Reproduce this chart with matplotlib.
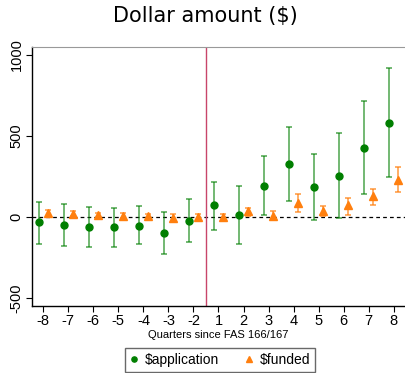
import matplotlib
matplotlib.use("Agg")
import matplotlib.pyplot as plt
import numpy as np

quarters = ["-8", "-7", "-6", "-5", "-4", "-3", "-2", "1", "2", "3", "4", "5", "6", "7", "8"]

app = [-35, -51, -64, -66, -54, -101, -23, 70, 14, 193, 327, 185, 255, 428, 582]
app_hi = [90, 78, 60, 56, 64, 27, 109, 218, 193, 373, 556, 389, 519, 714, 920]
app_lo = [-167, -181, -189, -187, -169, -228, -154, -82, -167, 14, 99, -19, -8, 140, 245]

fund = [23, 19, 10, 8, 2, -6, -2, 0, 33, 6, 88, 35, 72, 128, 230]
fund_hi = [39, 35, 26, 24, 18, 18, 20, 20, 53, 33, 144, 64, 119, 171, 305]
fund_lo = [6, 3, -6, -8, -14, -30, -22, -20, 8, -20, 31, 4, 14, 70, 154]

green = "#007f00"
orange = "#ff7f0e"

plt.rcParams["font.family"] = ["Liberation Sans", "DejaVu Sans"]

fig = plt.figure(figsize=(4.06, 3.73), dpi=100)
ax = fig.add_axes([0.0788, 0.1796, 0.9187, 0.6944])

x = np.arange(len(quarters))
app = np.array(app)
fund = np.array(fund)

ax.axhline(0, color="black", lw=0.9, ls=(0, (3, 2.5)), zorder=1)
ax.axvline(6.5, color="#c8456a", lw=1.0, zorder=1)

ax.errorbar(x - 0.17, app, yerr=[app - np.array(app_lo), np.array(app_hi) - app],
            fmt="none", ecolor=green, elinewidth=1.1, capsize=2.2, capthick=1.1, alpha=0.7)
ax.plot(x - 0.17, app, "o", color=green, ms=5, label="$application", zorder=3)
ax.errorbar(x + 0.17, fund, yerr=[fund - np.array(fund_lo), np.array(fund_hi) - fund],
            fmt="none", ecolor=orange, elinewidth=1.1, capsize=2.2, capthick=1.1, alpha=0.8)
ax.plot(x + 0.17, fund, "^", color=orange, ms=5.5, label="$funded", zorder=3)

ax.set_xlim(-0.45, 14.45)
ax.set_ylim(-551, 1049)
ax.set_xticks(x)
ax.set_xticklabels(quarters, fontsize=10.5)
ax.set_yticks([-500, 0, 500, 1000])
ax.set_yticklabels(["-500", "0", "500", "1000"], fontsize=10.5, rotation=90, va="center")
ax.tick_params(length=4, width=0.8, pad=2)
ax.set_xlabel("Quarters since FAS 166/167", fontsize=8, labelpad=1)

ax.spines["right"].set_visible(False)
ax.spines["top"].set_color("#999999")
ax.spines["top"].set_linewidth(0.8)
for s in ["left", "bottom"]:
    ax.spines[s].set_linewidth(1.0)

fig.suptitle("Dollar amount ($)", fontsize=15, family="DejaVu Sans", x=0.505, y=0.985)

fig.legend(loc="upper center", bbox_to_anchor=(0.542, 0.086), ncol=2, fontsize=10,
           frameon=True, fancybox=False, edgecolor="#444444", handlelength=0.6,
           handletextpad=0.5, columnspacing=1.8, markerscale=0.75, borderpad=0.35)

fig.savefig("out.png", dpi=100)
